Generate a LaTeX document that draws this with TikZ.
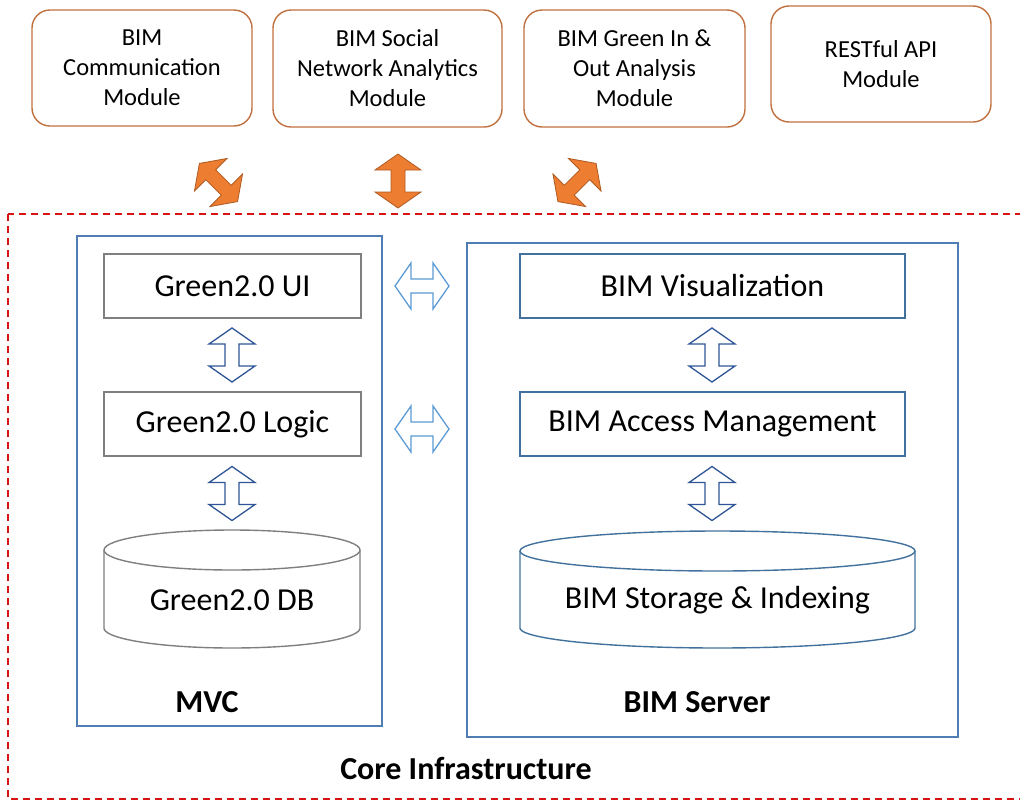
\documentclass[tikz,border=0pt]{standalone}
\usepackage{fontspec}
\setmainfont{Carlito}
\definecolor{topc}{RGB}{192,112,62}
\definecolor{orf}{RGB}{237,125,49}
\definecolor{ord}{RGB}{174,90,33}
\definecolor{mvcc}{RGB}{80,125,180}
\definecolor{grayc}{RGB}{127,127,127}
\definecolor{bimc}{RGB}{65,113,156}
\definecolor{darkar}{RGB}{47,85,151}
\definecolor{lightar}{RGB}{91,155,213}
\definecolor{dashred}{RGB}{214,20,20}
\newcommand{\blockarrow}[3]{%
  \begin{scope}[shift={#1}, rotate=#2]
    \draw[#3] (-27,0) -- (-11,23) -- (-11,7) -- (11,7) -- (11,23) -- (27,0)
      -- (11,-23) -- (11,-7) -- (-11,-7) -- (-11,-23) -- cycle;
  \end{scope}}
\begin{document}
\begin{tikzpicture}[x=1pt,y=-1pt,
  topbox/.style={draw=topc, line width=1.4pt, rounded corners=18pt, align=center,
    font=\fontsize{24.5}{30}\selectfont, inner sep=0pt},
  graybox/.style={draw=grayc, line width=1.4pt, font=\fontsize{32}{38}\selectfont, inner sep=0pt},
  bimbox/.style={draw=bimc, line width=1.4pt, font=\fontsize{32}{38}\selectfont, inner sep=0pt},
  frame/.style={draw=mvcc, line width=1.4pt},
  lbl/.style={font=\fontsize{32}{38}\selectfont\bfseries, inner sep=0pt},
  dbtext/.style={font=\fontsize{32}{38}\selectfont, inner sep=0pt},
  orarrow/.style={fill=orf, draw=ord, line width=0.8pt, line join=miter},
  darkarrow/.style={draw=darkar, line width=1.3pt, line join=miter, fill=white},
  lightarrow/.style={draw=lightar, line width=1.3pt, line join=miter, fill=white}]
\useasboundingbox (0,0) rectangle (1020,801);
\clip (0,0) rectangle (1020,801);

% top modules
\node[topbox, minimum width=220, minimum height=116] (comm) at (142,68) {BIM\\Communication\\Module};
\node[topbox, minimum width=229, minimum height=117] (social) at (387.5,68.5) {BIM Social\\Network Analytics\\Module};
\node[topbox, minimum width=221, minimum height=117] (green) at (634.5,68.5) {BIM Green In \&\\Out Analysis\\Module};
\node[topbox, minimum width=220, minimum height=116] (rest) at (881,64) {RESTful API\\Module};

% core infrastructure frame
\draw[draw=dashred, line width=1.6pt, dash pattern=on 7pt off 5pt] (8,214) rectangle (1040,799);
\node[lbl] (core) at (466,768) {Core Infrastructure};

% orange arrows
\coordinate (oa1) at (218.5,182.5);
\coordinate (oa2) at (398,181);
\coordinate (oa3) at (577,182.5);
\blockarrow{(oa1)}{-45}{orarrow}
\blockarrow{(oa2)}{90}{orarrow}
\blockarrow{(oa3)}{45}{orarrow}

% MVC
\draw[frame] (77,236) rectangle (382,726);
\node[lbl] (mvc) at (207,702) {MVC};
\node[graybox, minimum width=257, minimum height=64] (ui) at (232.5,286) {Green2.0 UI};
\node[graybox, minimum width=257, minimum height=64] (logic) at (232.5,424) {Green2.0 Logic};
\draw[draw=grayc, line width=1.4pt] (104,550) -- (104,628)
  plot[domain=180:0, samples=80] ({232+128*cos(\x)}, {628+20*sin(\x)}) -- (360,550);
\draw[draw=grayc, line width=1.4pt] (232,550) ellipse [x radius=128, y radius=20];
\node[dbtext] (db) at (232,600) {Green2.0 DB};

% BIM server
\draw[frame] (467,243) rectangle (958,737);
\node[lbl] (server) at (697,702) {BIM Server};
\node[bimbox, minimum width=385, minimum height=64] (vis) at (712.5,286) {BIM Visualization};
\node[bimbox, minimum width=385, minimum height=64] (acc) at (712.5,424) {BIM Access Management};
\draw[draw=bimc, line width=1.4pt] (520,551) -- (520,628)
  plot[domain=180:0, samples=80] ({717.5+197.5*cos(\x)}, {628+20*sin(\x)}) -- (915,551);
\draw[draw=bimc, line width=1.4pt] (717.5,551) ellipse [x radius=197.5, y radius=20];
\node[dbtext] (storage) at (717.5,600) {BIM Storage \& Indexing};

% hollow arrows
\coordinate (va1) at (232,355);
\coordinate (va2) at (232,493.5);
\coordinate (va3) at (712,355);
\coordinate (va4) at (712,493.5);
\coordinate (ha1) at (422,286);
\coordinate (ha2) at (422,429);
\blockarrow{(va1)}{90}{darkarrow}
\blockarrow{(va2)}{90}{darkarrow}
\blockarrow{(va3)}{90}{darkarrow}
\blockarrow{(va4)}{90}{darkarrow}
\blockarrow{(ha1)}{0}{lightarrow}
\blockarrow{(ha2)}{0}{lightarrow}
\end{tikzpicture}
\end{document}
